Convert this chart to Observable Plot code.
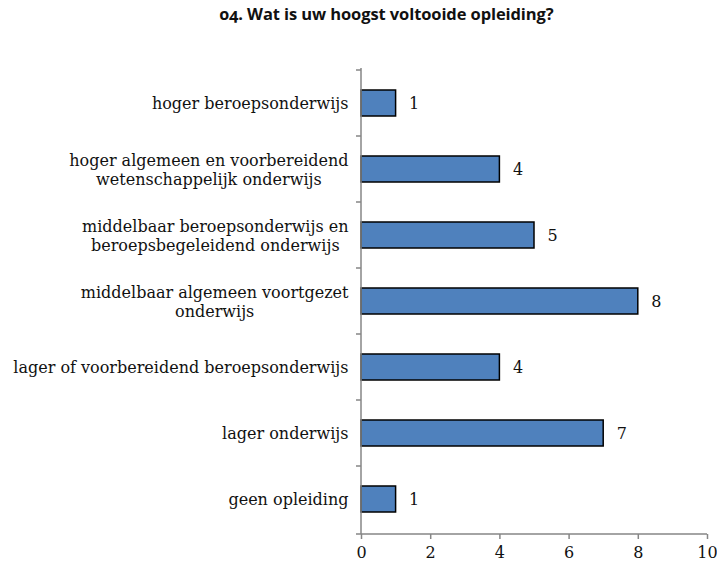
<!DOCTYPE html>
<html>
<head>
<meta charset="utf-8">
<script src="https://cdn.jsdelivr.net/npm/d3@7"></script>
<script src="https://cdn.jsdelivr.net/npm/@observablehq/plot@0.6"></script>
<style>
  body { margin: 0; background: #fff; }
  #title { width: 661px; height: 28px; line-height: 28px; text-align: center; padding-left: 56px;
    font-family: "Open Sans", Lato, sans-serif; font-weight: bold; font-size: 16.5px; color: #111;
    font-variant-numeric: oldstyle-nums; letter-spacing: -0.1px; }
  svg { display: block; }
  #chart svg, #chart svg text { font-family: "DejaVu Serif", "Liberation Serif", serif !important; }
</style>
</head>
<body>
<div id="title">04. Wat is uw hoogst voltooide opleiding?</div>
<div id="chart"></div>
<script>
const categories = [
  "hoger beroepsonderwijs",
  "hoger algemeen en voorbereidend wetenschappelijk onderwijs",
  "middelbaar beroepsonderwijs en beroepsbegeleidend onderwijs",
  "middelbaar algemeen voortgezet onderwijs",
  "lager of voorbereidend beroepsonderwijs",
  "lager onderwijs",
  "geen opleiding"
];
const tickLabels = [
  "hoger beroepsonderwijs",
  "hoger algemeen en voorbereidend\nwetenschappelijk onderwijs",
  "middelbaar beroepsonderwijs en\nberoepsbegeleidend onderwijs",
  "middelbaar algemeen voortgezet\nonderwijs",
  "lager of voorbereidend beroepsonderwijs",
  "lager onderwijs",
  "geen opleiding"
];
const values = [1, 4, 5, 8, 4, 7, 1];
const xTicks = [0, 2, 4, 6, 8, 10];

const data = categories.map((c, i) => ({cat: c, value: values[i]}));
const labelOf = new Map(categories.map((c, i) => [c, tickLabels[i]]));
const axisColor = "#868686";
const serif = "DejaVu Serif";

const gridMark = (index, scales, values, dimensions) => {
  const y = scales.y, x = scales.x;
  const g = d3.create("svg:g").attr("stroke", axisColor).attr("stroke-width", 1.5);
  const x0 = x(0);
  const yTop = dimensions.marginTop, yBot = dimensions.height - dimensions.marginBottom;
  const step = y.step();
  const half = (step - y.bandwidth()) / 2;
  const bounds = categories.map(c => y(c) - half).concat([yBot]);
  for (const b of bounds) {
    g.append("line").attr("x1", x0 - 5).attr("x2", x0).attr("y1", b).attr("y2", b);
  }
  g.append("line").attr("x1", x0).attr("x2", x0).attr("y1", yTop).attr("y2", yBot);
  g.append("line").attr("x1", x0).attr("x2", x(10)).attr("y1", yBot).attr("y2", yBot);
  return g.node();
};

const chart = Plot.plot({
  width: 717,
  height: 539,
  marginLeft: 361,
  marginRight: 10,
  marginTop: 40,
  marginBottom: 33,
  style: {fontSize: "16px", color: "#111", background: "#fff"},
  x: {domain: [0, 10], axis: null},
  y: {domain: categories, paddingInner: 0.6, paddingOuter: 0.3, axis: null},
  marks: [
    Plot.barX(data, {x: "value", y: "cat", fill: "#4f81bd", stroke: "#000", strokeWidth: 1.5}),
    gridMark,
    Plot.axisX({ticks: xTicks, tickSize: 5, tickPadding: 7, stroke: axisColor, strokeWidth: 1.5,
      fill: "#111", fontSize: 16, fontFamily: serif, label: null}),
    Plot.axisY({tickSize: 0, tickPadding: 13, tickFormat: d => labelOf.get(d), fill: "#111",
      fontSize: 16, fontFamily: serif, lineHeight: 1.15, label: null}),
    Plot.text(data, {x: "value", y: "cat", text: d => String(d.value), dx: 13, textAnchor: "start",
      fontSize: 16, fontFamily: serif, fill: "#111"})
  ]
});
document.getElementById("chart").appendChild(chart);

// center multi-line tick labels like the original
d3.select(chart).selectAll('g[aria-label="y-axis tick label"] text').each(function() {
  const spans = this.querySelectorAll("tspan");
  if (spans.length < 2) return;
  let w = 0;
  spans.forEach(s => { w = Math.max(w, s.getComputedTextLength()); });
  this.setAttribute("text-anchor", "middle");
  spans.forEach(s => s.setAttribute("x", -w / 2));
});
</script>
</body>
</html>
